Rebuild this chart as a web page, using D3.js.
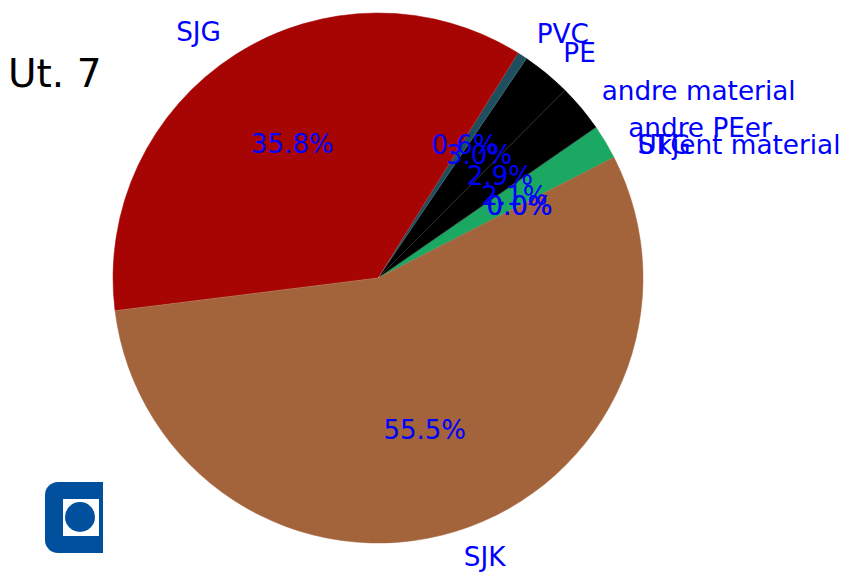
<!DOCTYPE html>
<html>
<head>
<meta charset="utf-8">
<script src="https://cdn.jsdelivr.net/npm/d3@7"></script>
<style>
  body { margin: 0; background: #fff; }
  text { font-family: "DejaVu Sans", sans-serif; }
</style>
</head>
<body>
<div id="chart"></div>
<script>
// Slices in drawing order (counterclockwise from the start angle), values in percent
const labels = ['STG', 'Ukjent material', 'andre PEer', 'andre material', 'PE', 'PVC', 'SJG', 'SJK'];
const values = [0.0, 0.0, 2.1, 2.9, 3.0, 0.6, 35.8, 55.5];
const colors = ['#1aa862', '#1aa862', '#1aa862', '#000000', '#000000', '#1f4f5f', '#a60503', '#a3633b'];
const title = 'Ut. 7';

const width = 859;
const height = 576;
const cx = 378;
const cy = 278;
const radius = 265;

const svg = d3
  .select('#chart')
  .append('svg')
  .attr('width', width)
  .attr('height', height);

// Start at ~27 degrees (matplotlib style) and run counterclockwise
const start = ((90 - 27.1) * Math.PI) / 180;
const pie = d3
  .pie()
  .sort(null)
  .value((d) => d.value)
  .startAngle(start)
  .endAngle(start - 2 * Math.PI);

const data = labels.map((l, i) => ({ label: l, value: values[i], color: colors[i] }));
const arcs = pie(data);

const arc = d3.arc().innerRadius(0).outerRadius(radius);

const g = svg.append('g').attr('transform', `translate(${cx},${cy})`);

g.selectAll('path')
  .data(arcs)
  .join('path')
  .attr('d', arc)
  .attr('fill', (d) => d.data.color)
  .attr('stroke', (d) => d.data.color)
  .attr('stroke-width', 0.5);

// faint seams between slices
g.selectAll('line.seam')
  .data(arcs.filter((d) => d.data.value > 0))
  .join('line')
  .attr('class', 'seam')
  .attr('x1', 0)
  .attr('y1', 0)
  .attr('x2', (d) => radius * Math.sin(d.startAngle))
  .attr('y2', (d) => -radius * Math.cos(d.startAngle))
  .attr('stroke', '#fff')
  .attr('stroke-opacity', 0.15)
  .attr('stroke-width', 0.8);

const mid = (d) => (d.startAngle + d.endAngle) / 2;

// outer labels
g.selectAll('text.lbl')
  .data(arcs)
  .join('text')
  .attr('class', 'lbl')
  .attr('x', (d) => 1.1 * radius * Math.sin(mid(d)))
  .attr('y', (d) => -1.1 * radius * Math.cos(mid(d)))
  .attr('text-anchor', (d) => (Math.sin(mid(d)) < 0 ? 'end' : 'start'))
  .attr('dominant-baseline', 'central')
  .attr('font-size', 26.3)
  .attr('fill', 'blue')
  .text((d) => d.data.label);

// percentage labels
g.selectAll('text.pct')
  .data(arcs)
  .join('text')
  .attr('class', 'pct')
  .attr('x', (d) => 0.6 * radius * Math.sin(mid(d)))
  .attr('y', (d) => -0.6 * radius * Math.cos(mid(d)))
  .attr('text-anchor', 'middle')
  .attr('dominant-baseline', 'central')
  .attr('font-size', 26)
  .attr('fill', 'blue')
  .text((d) => d.data.value.toFixed(1) + '%');

svg.append('text')
  .attr('x', 8)
  .attr('y', 87)
  .attr('font-size', 39)
  .attr('fill', '#000')
  .text(title);

// logo, clipped at the right
const logo = svg.append('g');
svg.append('clipPath')
  .attr('id', 'logoclip')
  .append('rect')
  .attr('x', 40)
  .attr('y', 475)
  .attr('width', 63)
  .attr('height', 85);
logo.attr('clip-path', 'url(#logoclip)');
logo.append('rect')
  .attr('x', 45)
  .attr('y', 482)
  .attr('width', 90)
  .attr('height', 71)
  .attr('rx', 13)
  .attr('fill', '#00509e');
logo.append('rect')
  .attr('x', 63)
  .attr('y', 499)
  .attr('width', 36)
  .attr('height', 37)
  .attr('fill', '#fff');
logo.append('circle')
  .attr('cx', 80)
  .attr('cy', 517)
  .attr('r', 15)
  .attr('fill', '#00509e');
</script>
</body>
</html>
